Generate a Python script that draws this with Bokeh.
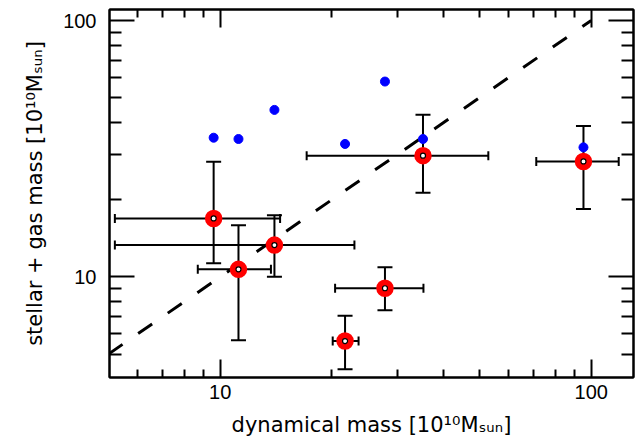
from bokeh.plotting import figure
from bokeh.models import (LogAxis, FixedTicker, Whisker, TeeHead, ColumnDataSource,
                          Range1d, NumeralTickFormatter, CustomJSTickFormatter)
from bokeh.embed import file_html
from bokeh.resources import INLINE

# ---------------- data ----------------
dyn_mass = [9.6, 11.2, 14.0, 21.7, 27.8, 35.2, 95.3]          # x, 1e10 Msun
baryon_mass_blue = [34.9, 34.5, 44.8, 33.0, 57.8, 34.5, 32.0]  # blue points
baryon_mass_red = [16.9, 10.7, 13.3, 5.62, 9.03, 29.7, 28.2]   # red points
dyn_lo = [5.2, 8.7, 5.2, 20.1, 20.4, 17.1, 71.1]
dyn_hi = [14.5, 13.7, 23.0, 23.6, 35.3, 52.8, 118.6]
bar_lo = [11.3, 5.66, 10.0, 4.36, 7.41, 21.3, 18.4]
bar_hi = [28.1, 15.9, 17.4, 7.05, 10.9, 42.9, 38.8]
one_to_one = [5, 100]

x_major = [10, 100]
x_minor = [6, 7, 8, 9, 20, 30, 40, 50, 60, 70, 80, 90]
y_major = [10, 100]
y_minor = [5, 6, 7, 8, 9, 20, 30, 40, 50, 60, 70, 80, 90]
X_RANGE = (5.03, 130.0)
Y_RANGE = (4.05, 110.4)

x_title = "dynamical mass [10\u00b9\u2070M\u209b\u1d64\u2099]"
y_title = "stellar + gas mass [10\u00b9\u2070M\u209b\u1d64\u2099]"

FONT = "Liberation Sans"
TITLE_FONT = "DejaVu Sans"

p = figure(width=643, height=443, x_axis_type="log", y_axis_type="log",
           x_range=Range1d(*X_RANGE), y_range=Range1d(*Y_RANGE),
           output_backend="svg", toolbar_location=None,
           min_border_left=109, min_border_right=10, min_border_top=9,
           min_border_bottom=66)
p.grid.visible = False
p.outline_line_color = "black"
p.outline_line_width = 2
p.background_fill_color = "white"
p.border_fill_color = "white"

def style_axis(ax, ticks, minor, major_len, minor_len, show_labels):
    ax.ticker = FixedTicker(ticks=ticks, minor_ticks=minor)
    ax.axis_line_color = "black"
    ax.axis_line_width = 2
    ax.major_tick_in = major_len
    ax.major_tick_out = 0
    ax.minor_tick_in = minor_len
    ax.minor_tick_out = 0
    ax.major_tick_line_width = 2
    ax.minor_tick_line_width = 2
    ax.major_tick_line_color = "black"
    ax.minor_tick_line_color = "black"
    if show_labels:
        ax.formatter = NumeralTickFormatter(format="0")
        ax.major_label_text_font = FONT
        ax.major_label_text_font_size = "20px"
        ax.major_label_text_color = "black"
        ax.axis_label_text_font = TITLE_FONT
        ax.axis_label_text_font_size = "21px"
        ax.axis_label_text_font_style = "normal"
        ax.axis_label_text_color = "black"
    else:
        ax.formatter = CustomJSTickFormatter(code="return ''")
        ax.major_label_text_font_size = "0px"
        ax.major_label_standoff = 0

style_axis(p.xaxis[0], x_major, x_minor, 18, 8, True)
style_axis(p.yaxis[0], y_major, y_minor, 25, 12, True)
p.xaxis[0].major_label_standoff = 7
p.yaxis[0].major_label_standoff = 13
p.xaxis[0].axis_label = x_title
p.yaxis[0].axis_label = y_title
p.xaxis[0].axis_label_standoff = 11
p.yaxis[0].axis_label_standoff = 13

top_ax = LogAxis()
right_ax = LogAxis()
style_axis(top_ax, x_major, x_minor, 18, 8, False)
style_axis(right_ax, y_major, y_minor, 25, 12, False)
p.add_layout(top_ax, "above")
p.add_layout(right_ax, "right")

# one-to-one dashed line
p.line(one_to_one, one_to_one, line_color="black", line_width=3, line_dash="17 19")

# blue points
p.scatter(dyn_mass, baryon_mass_blue, size=9, marker="circle",
          fill_color="blue", line_color="blue")

# red rings
p.scatter(dyn_mass, baryon_mass_red, size=11, marker="circle",
          fill_color=None, line_color="red", line_width=6.5)

src = ColumnDataSource(dict(x=dyn_mass, y=baryon_mass_red, xlo=dyn_lo, xhi=dyn_hi,
                            ylo=bar_lo, yhi=bar_hi))
p.add_layout(Whisker(source=src, base="x", lower="ylo", upper="yhi", dimension="height",
                     line_color="black", line_width=2,
                     upper_head=TeeHead(size=15, line_width=2, line_color="black"),
                     lower_head=TeeHead(size=15, line_width=2, line_color="black")))
p.add_layout(Whisker(source=src, base="y", lower="xlo", upper="xhi", dimension="width",
                     line_color="black", line_width=2,
                     upper_head=TeeHead(size=9, line_width=2, line_color="black"),
                     lower_head=TeeHead(size=9, line_width=2, line_color="black")))

p.scatter(dyn_mass, baryon_mass_red, size=5, marker="circle",
          fill_color="white", line_color="black", line_width=1.2)

open("out.html", "w").write(file_html(p, INLINE))
